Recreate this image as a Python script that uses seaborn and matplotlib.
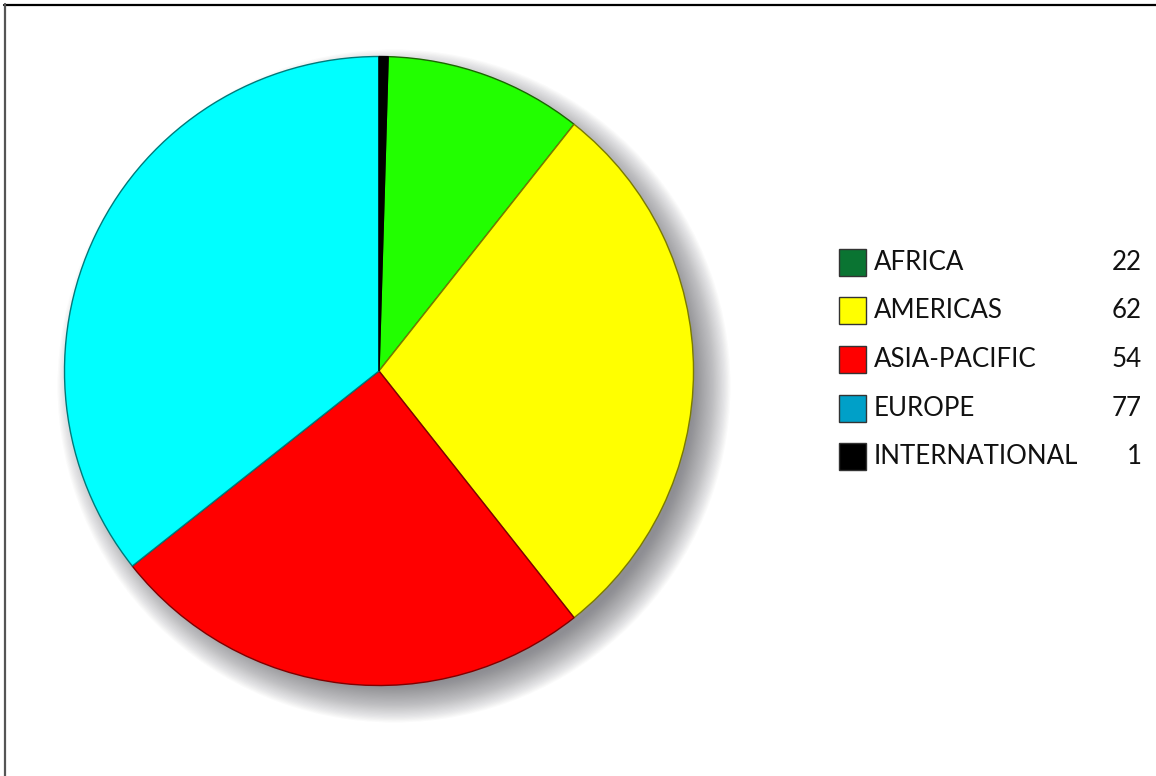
import matplotlib.pyplot as plt
import matplotlib.patches as mpatches
import seaborn as sns
import numpy as np

regions = ["AFRICA", "AMERICAS", "ASIA-PACIFIC", "EUROPE", "INTERNATIONAL"]
counts = [22, 62, 54, 77, 1]
pie_colors = ["#22ff00", "#ffff00", "#ff0000", "#00ffff", "#000000"]
edge_colors = ["#1a6600", "#7a7a00", "#800000", "#007a7a", "#000000"]
legend_colors = ["#0a7432", "#ffff00", "#ff0000", "#00a0c8", "#000000"]

sns.set_style("white")
plt.rcParams['font.family'] = ['Lato', 'DejaVu Sans']

fig = plt.figure(figsize=(11.56, 7.76), dpi=100)
ax = fig.add_axes([0, 0, 1, 1])

cx, cy, r = 379, 371, 314.5

# soft drop shadow, offset to lower right
for k in range(32):
    rr = r + 22 - k * 1.2
    ax.add_patch(mpatches.Circle((cx + 15, cy + 15), rr, color="#404048",
                                 alpha=0.022, lw=0, zorder=1))

# y axis runs downward, so angles go "counterclockwise" in data to get a
# clockwise pie on screen; the last slice (INTERNATIONAL) ends at 12 o'clock
offset = 360 * counts[-1] / sum(counts)
wedges, _ = ax.pie(counts, colors=pie_colors, startangle=-90 + offset,
                   counterclock=True, center=(cx, cy), radius=r,
                   wedgeprops=dict(linewidth=1.0))
for w, ec in zip(wedges, edge_colors):
    w.set_edgecolor(ec)
    w.set_zorder(3)

# legend
x0, y0, step, sw = 839, 262, 48.7, 27
for i, (name, n, c) in enumerate(zip(regions, counts, legend_colors)):
    y = y0 + i * step
    ax.add_patch(mpatches.Rectangle((x0, y - sw / 2), sw, sw, facecolor=c,
                                    edgecolor="#333333", lw=1.0, zorder=4))
    ax.text(x0 + 35, y, name, fontsize=18.6, va="center", ha="left", color="#111111")
    ax.text(1142, y, str(n), fontsize=18.6, va="center", ha="right", color="#111111")

# frame lines (top, left)
ax.plot([4, 1156], [4.5, 4.5], color="black", lw=1.6, zorder=5)
ax.plot([4.5, 4.5], [4, 776], color="#555555", lw=1.6, zorder=5)

ax.set_xlim(0, 1156)
ax.set_ylim(776, 0)
ax.set_aspect("auto")
ax.axis("off")

fig.savefig("out.png", dpi=100)
